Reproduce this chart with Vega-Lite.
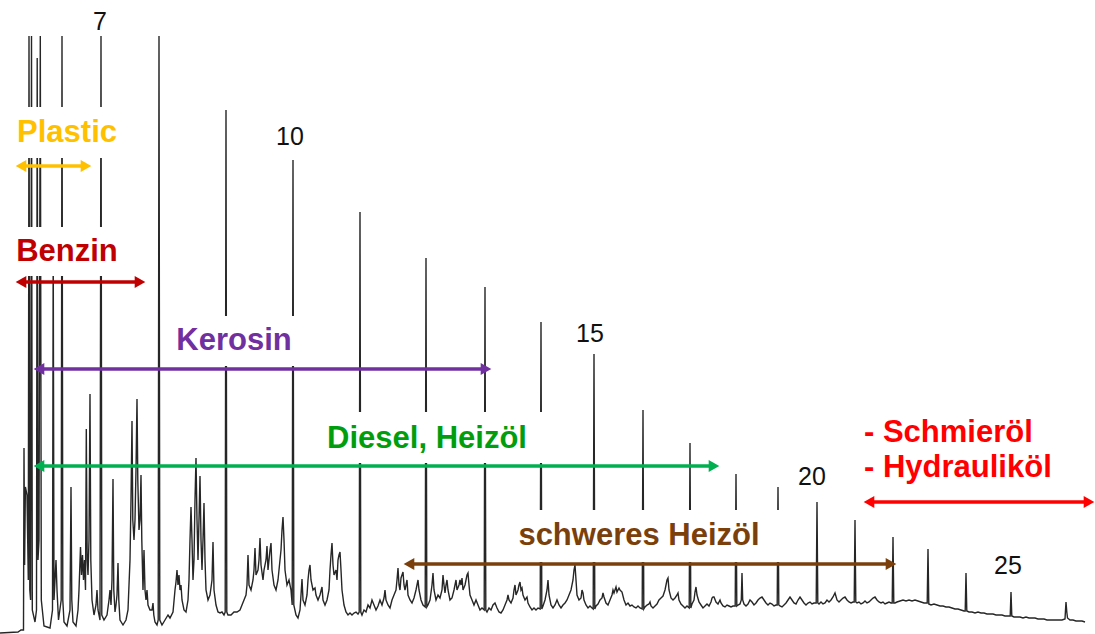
{
"$schema":"https://vega.github.io/schema/vega-lite/v6.json",
"width":1095,"height":634,
"autosize":{"type":"none"},
"padding":0,
"background":"white",
"config":{"view":{"stroke":null}},
"resolve":{"scale":{"color":"independent"}},
"datasets":{
"signal":[
{"t":0,"s":1},{"t":18,"s":2},{"t":21,"s":4},{"t":23.5,"s":4},{"t":24,"s":186},{"t":24.6,"s":69},{"t":25.4,"s":147},{"t":27,"s":139},{"t":28.3,"s":54},{"t":29,"s":598},{"t":29.8,"s":44},{"t":30.6,"s":34},{"t":31.5,"s":598},{"t":32.3,"s":24},{"t":35,"s":12},{"t":36.5,"s":24},{"t":37.2,"s":576},{"t":38,"s":74},{"t":39,"s":94},{"t":40.3,"s":598},{"t":41.3,"s":34},{"t":44,"s":8},{"t":50,"s":6},{"t":52.5,"s":24},{"t":53.2,"s":394},{"t":54,"s":34},{"t":56,"s":74},{"t":57,"s":44},{"t":58.5,"s":14},{"t":61.2,"s":34},{"t":62,"s":598},{"t":62.8,"s":34},{"t":64,"s":12},{"t":67,"s":8},{"t":70,"s":24},{"t":71,"s":147},{"t":71.8,"s":34},{"t":73,"s":12},{"t":76,"s":8},{"t":78,"s":24},{"t":79,"s":44},{"t":80.5,"s":87},{"t":81.5,"s":59},{"t":82.5,"s":79},{"t":83.5,"s":54},{"t":84.5,"s":74},{"t":85.5,"s":44},{"t":86.3,"s":205},{"t":87.2,"s":74},{"t":88,"s":59},{"t":89,"s":94},{"t":90,"s":240},{"t":90.8,"s":74},{"t":92,"s":34},{"t":94,"s":19},{"t":96,"s":29},{"t":97,"s":44},{"t":98,"s":24},{"t":100,"s":14},{"t":101,"s":598},{"t":101.8,"s":19},{"t":104,"s":14},{"t":107,"s":19},{"t":109,"s":34},{"t":110,"s":44},{"t":111,"s":29},{"t":112,"s":54},{"t":113,"s":155},{"t":113.8,"s":44},{"t":115,"s":22},{"t":116,"s":29},{"t":117,"s":39},{"t":118,"s":71},{"t":118.8,"s":34},{"t":120,"s":14},{"t":123,"s":9},{"t":126,"s":14},{"t":128,"s":24},{"t":130,"s":74},{"t":131,"s":134},{"t":132,"s":213},{"t":132.8,"s":114},{"t":134,"s":94},{"t":135,"s":114},{"t":136,"s":164},{"t":137,"s":235},{"t":137.8,"s":154},{"t":139,"s":104},{"t":140,"s":114},{"t":141,"s":159},{"t":141.8,"s":94},{"t":143,"s":44},{"t":144,"s":84},{"t":145,"s":44},{"t":146,"s":34},{"t":147,"s":44},{"t":148,"s":29},{"t":150,"s":24},{"t":152,"s":24},{"t":153,"s":31},{"t":153.8,"s":19},{"t":155,"s":12},{"t":157,"s":9},{"t":158.2,"s":14},{"t":159,"s":598},{"t":159.8,"s":14},{"t":162,"s":9},{"t":165,"s":14},{"t":168,"s":19},{"t":170,"s":16},{"t":173,"s":22},{"t":175,"s":44},{"t":176,"s":52},{"t":177,"s":64},{"t":178,"s":49},{"t":179,"s":59},{"t":180,"s":44},{"t":181,"s":49},{"t":182,"s":34},{"t":184,"s":24},{"t":186,"s":22},{"t":188,"s":34},{"t":189,"s":54},{"t":190,"s":94},{"t":191,"s":127},{"t":192,"s":94},{"t":193,"s":54},{"t":194,"s":74},{"t":195,"s":134},{"t":196,"s":176},{"t":197,"s":114},{"t":198,"s":74},{"t":199,"s":114},{"t":200,"s":158},{"t":201,"s":94},{"t":202,"s":64},{"t":203,"s":94},{"t":204,"s":131},{"t":205,"s":74},{"t":206,"s":44},{"t":208,"s":34},{"t":210,"s":39},{"t":212,"s":54},{"t":213,"s":92},{"t":214,"s":44},{"t":216,"s":29},{"t":218,"s":22},{"t":220,"s":21},{"t":222,"s":22},{"t":224,"s":19},{"t":225.2,"s":22},{"t":226,"s":524},{"t":226.8,"s":22},{"t":228,"s":19},{"t":231,"s":19},{"t":234,"s":22},{"t":237,"s":22},{"t":240,"s":24},{"t":242,"s":29},{"t":244,"s":34},{"t":246,"s":39},{"t":247,"s":49},{"t":248,"s":79},{"t":249,"s":49},{"t":251,"s":44},{"t":253,"s":54},{"t":254,"s":64},{"t":255,"s":86},{"t":256,"s":59},{"t":258,"s":64},{"t":259,"s":74},{"t":260,"s":96},{"t":261,"s":69},{"t":263,"s":54},{"t":264,"s":64},{"t":266,"s":74},{"t":267,"s":88},{"t":268,"s":64},{"t":269,"s":74},{"t":270,"s":84},{"t":271,"s":91},{"t":272,"s":64},{"t":274,"s":49},{"t":276,"s":44},{"t":278,"s":54},{"t":280,"s":74},{"t":281,"s":84},{"t":282,"s":104},{"t":283,"s":117},{"t":284,"s":94},{"t":285,"s":64},{"t":287,"s":49},{"t":289,"s":54},{"t":291,"s":44},{"t":292.2,"s":29},{"t":293,"s":474},{"t":293.8,"s":29},{"t":296,"s":19},{"t":298,"s":16},{"t":300,"s":24},{"t":301,"s":39},{"t":302,"s":55},{"t":303,"s":34},{"t":305,"s":29},{"t":307,"s":39},{"t":308,"s":54},{"t":309,"s":64},{"t":310,"s":69},{"t":311,"s":54},{"t":313,"s":44},{"t":315,"s":46},{"t":316,"s":39},{"t":318,"s":34},{"t":320,"s":39},{"t":322,"s":47},{"t":323,"s":34},{"t":325,"s":29},{"t":327,"s":34},{"t":329,"s":44},{"t":330,"s":64},{"t":331,"s":79},{"t":332,"s":91},{"t":333,"s":69},{"t":334,"s":59},{"t":336,"s":64},{"t":337,"s":54},{"t":338,"s":74},{"t":339,"s":79},{"t":340,"s":82},{"t":341,"s":64},{"t":342,"s":44},{"t":344,"s":29},{"t":346,"s":22},{"t":348,"s":19},{"t":350,"s":21},{"t":352,"s":19},{"t":354,"s":21},{"t":356,"s":22},{"t":358,"s":20},{"t":359.2,"s":22},{"t":360,"s":422},{"t":360.8,"s":22},{"t":362,"s":19},{"t":364,"s":24},{"t":366,"s":22},{"t":368,"s":29},{"t":370,"s":26},{"t":372,"s":34},{"t":374,"s":29},{"t":376,"s":24},{"t":378,"s":28},{"t":380,"s":34},{"t":382,"s":29},{"t":384,"s":36},{"t":385,"s":44},{"t":386,"s":34},{"t":388,"s":29},{"t":390,"s":26},{"t":392,"s":34},{"t":394,"s":39},{"t":396,"s":44},{"t":397,"s":54},{"t":398,"s":66},{"t":399,"s":49},{"t":400,"s":44},{"t":401,"s":56},{"t":402,"s":59},{"t":403,"s":62},{"t":404,"s":49},{"t":405,"s":44},{"t":406,"s":49},{"t":407,"s":54},{"t":408,"s":39},{"t":410,"s":34},{"t":412,"s":31},{"t":414,"s":36},{"t":416,"s":44},{"t":417,"s":49},{"t":418,"s":54},{"t":419,"s":44},{"t":421,"s":34},{"t":423,"s":29},{"t":425.2,"s":27},{"t":426,"s":376},{"t":426.8,"s":27},{"t":428,"s":29},{"t":430,"s":34},{"t":432,"s":49},{"t":433,"s":61},{"t":434,"s":44},{"t":436,"s":34},{"t":438,"s":39},{"t":440,"s":36},{"t":442,"s":44},{"t":443,"s":59},{"t":444,"s":49},{"t":445,"s":41},{"t":446,"s":49},{"t":447,"s":54},{"t":448,"s":44},{"t":450,"s":34},{"t":452,"s":36},{"t":454,"s":44},{"t":455,"s":49},{"t":456,"s":54},{"t":457,"s":44},{"t":459,"s":49},{"t":460,"s":54},{"t":461,"s":49},{"t":462,"s":56},{"t":463,"s":44},{"t":465,"s":49},{"t":466,"s":54},{"t":467,"s":59},{"t":468,"s":61},{"t":469,"s":49},{"t":470,"s":39},{"t":472,"s":34},{"t":474,"s":29},{"t":476,"s":34},{"t":478,"s":29},{"t":480,"s":24},{"t":482,"s":26},{"t":484.2,"s":24},{"t":485,"s":347},{"t":485.8,"s":24},{"t":487,"s":22},{"t":489,"s":26},{"t":491,"s":24},{"t":493,"s":29},{"t":495,"s":31},{"t":497,"s":26},{"t":499,"s":22},{"t":501,"s":21},{"t":503,"s":24},{"t":505,"s":29},{"t":507,"s":34},{"t":508,"s":39},{"t":509,"s":34},{"t":511,"s":31},{"t":513,"s":36},{"t":514,"s":44},{"t":515,"s":49},{"t":516,"s":39},{"t":518,"s":44},{"t":519,"s":49},{"t":520,"s":52},{"t":521,"s":44},{"t":522,"s":46},{"t":523,"s":39},{"t":525,"s":34},{"t":527,"s":37},{"t":528,"s":31},{"t":530,"s":27},{"t":532,"s":24},{"t":534,"s":26},{"t":536,"s":24},{"t":538,"s":26},{"t":540.2,"s":25},{"t":541,"s":312},{"t":541.8,"s":25},{"t":543,"s":28},{"t":545,"s":34},{"t":547,"s":44},{"t":548,"s":54},{"t":549,"s":39},{"t":551,"s":29},{"t":553,"s":26},{"t":555,"s":29},{"t":557,"s":34},{"t":559,"s":29},{"t":561,"s":26},{"t":563,"s":29},{"t":565,"s":31},{"t":567,"s":34},{"t":569,"s":39},{"t":571,"s":44},{"t":573,"s":54},{"t":574,"s":64},{"t":575,"s":69},{"t":576,"s":54},{"t":577,"s":39},{"t":579,"s":34},{"t":581,"s":36},{"t":582,"s":44},{"t":583,"s":41},{"t":584,"s":34},{"t":586,"s":29},{"t":588,"s":26},{"t":590,"s":28},{"t":592,"s":26},{"t":593.2,"s":25},{"t":594,"s":280},{"t":594.8,"s":25},{"t":596,"s":28},{"t":598,"s":30},{"t":600,"s":34},{"t":602,"s":36},{"t":603,"s":41},{"t":604,"s":37},{"t":606,"s":31},{"t":608,"s":29},{"t":610,"s":34},{"t":612,"s":39},{"t":613,"s":44},{"t":614,"s":41},{"t":616,"s":47},{"t":617,"s":42},{"t":619,"s":46},{"t":620,"s":44},{"t":622,"s":42},{"t":624,"s":34},{"t":626,"s":29},{"t":628,"s":31},{"t":630,"s":28},{"t":632,"s":29},{"t":634,"s":27},{"t":636,"s":26},{"t":638,"s":28},{"t":640,"s":26},{"t":642.2,"s":25},{"t":643,"s":224},{"t":643.8,"s":25},{"t":645,"s":27},{"t":647,"s":29},{"t":649,"s":30},{"t":650,"s":32},{"t":651,"s":28},{"t":653,"s":26},{"t":655,"s":28},{"t":657,"s":30},{"t":659,"s":34},{"t":661,"s":36},{"t":663,"s":38},{"t":665,"s":44},{"t":666,"s":49},{"t":667,"s":54},{"t":668,"s":56},{"t":669,"s":44},{"t":671,"s":36},{"t":673,"s":34},{"t":675,"s":36},{"t":677,"s":39},{"t":678,"s":41},{"t":679,"s":34},{"t":681,"s":30},{"t":683,"s":28},{"t":685,"s":26},{"t":687,"s":28},{"t":689.2,"s":26},{"t":690,"s":191},{"t":690.8,"s":26},{"t":692,"s":30},{"t":694,"s":34},{"t":695,"s":42},{"t":696,"s":47},{"t":697,"s":39},{"t":699,"s":32},{"t":701,"s":29},{"t":703,"s":26},{"t":705,"s":28},{"t":707,"s":30},{"t":709,"s":28},{"t":711,"s":32},{"t":712,"s":36},{"t":713,"s":37},{"t":714,"s":37},{"t":716,"s":32},{"t":718,"s":30},{"t":720,"s":34},{"t":721,"s":31},{"t":723,"s":28},{"t":725,"s":27},{"t":727,"s":29},{"t":729,"s":28},{"t":731,"s":27},{"t":733,"s":28},{"t":735.2,"s":28},{"t":736,"s":160},{"t":736.8,"s":28},{"t":738,"s":29},{"t":740,"s":30},{"t":741.3,"s":34},{"t":742,"s":61},{"t":742.7,"s":34},{"t":744,"s":30},{"t":746,"s":28},{"t":748,"s":30},{"t":750,"s":34},{"t":752,"s":32},{"t":754,"s":29},{"t":756,"s":31},{"t":758,"s":34},{"t":760,"s":36},{"t":762,"s":37},{"t":764,"s":34},{"t":766,"s":31},{"t":768,"s":29},{"t":770,"s":31},{"t":772,"s":30},{"t":774,"s":28},{"t":776,"s":29},{"t":777.2,"s":29},{"t":778,"s":147},{"t":778.8,"s":29},{"t":780,"s":28},{"t":782,"s":27},{"t":784,"s":29},{"t":786,"s":31},{"t":788,"s":34},{"t":790,"s":37},{"t":792,"s":34},{"t":794,"s":31},{"t":796,"s":30},{"t":798,"s":34},{"t":800,"s":37},{"t":802,"s":34},{"t":804,"s":31},{"t":806,"s":29},{"t":808,"s":31},{"t":810,"s":32},{"t":812,"s":30},{"t":814,"s":31},{"t":816.2,"s":31},{"t":817,"s":132},{"t":817.8,"s":31},{"t":819,"s":30},{"t":821,"s":32},{"t":823,"s":30},{"t":825,"s":31},{"t":827,"s":34},{"t":829,"s":32},{"t":831,"s":34},{"t":833,"s":37},{"t":835,"s":41},{"t":837,"s":34},{"t":839,"s":32},{"t":841,"s":34},{"t":843,"s":36},{"t":845,"s":37},{"t":847,"s":34},{"t":849,"s":32},{"t":851,"s":31},{"t":853,"s":32},{"t":854.2,"s":32},{"t":855,"s":114},{"t":855.8,"s":32},{"t":857,"s":31},{"t":859,"s":32},{"t":861,"s":30},{"t":863,"s":31},{"t":865,"s":33},{"t":867,"s":31},{"t":869,"s":32},{"t":871,"s":34},{"t":873,"s":36},{"t":875,"s":37},{"t":877,"s":34},{"t":879,"s":32},{"t":881,"s":31},{"t":883,"s":32},{"t":885,"s":30},{"t":887,"s":31},{"t":889,"s":32},{"t":891,"s":31},{"t":892.2,"s":31},{"t":893,"s":97},{"t":893.8,"s":31},{"t":895,"s":31},{"t":897,"s":32},{"t":900,"s":33},{"t":903,"s":34},{"t":906,"s":33},{"t":909,"s":34},{"t":912,"s":33},{"t":915,"s":34},{"t":918,"s":33},{"t":921,"s":32},{"t":924,"s":31},{"t":927.2,"s":31},{"t":928,"s":85},{"t":928.8,"s":30},{"t":931,"s":29},{"t":934,"s":30},{"t":937,"s":29},{"t":940,"s":28},{"t":943,"s":28},{"t":946,"s":27},{"t":949,"s":27},{"t":952,"s":26},{"t":955,"s":25},{"t":958,"s":25},{"t":961,"s":24},{"t":964,"s":23},{"t":965.2,"s":23},{"t":966,"s":61},{"t":966.8,"s":23},{"t":969,"s":22},{"t":972,"s":22},{"t":975,"s":21},{"t":978,"s":22},{"t":981,"s":21},{"t":984,"s":21},{"t":987,"s":20},{"t":990,"s":20},{"t":993,"s":20},{"t":996,"s":19},{"t":999,"s":19},{"t":1002,"s":19},{"t":1005,"s":18},{"t":1008,"s":18},{"t":1010.2,"s":18},{"t":1011,"s":42},{"t":1011.8,"s":18},{"t":1014,"s":17},{"t":1017,"s":17},{"t":1020,"s":17},{"t":1023,"s":16},{"t":1026,"s":17},{"t":1029,"s":16},{"t":1032,"s":16},{"t":1035,"s":16},{"t":1038,"s":15},{"t":1041,"s":15},{"t":1044,"s":15},{"t":1047,"s":14},{"t":1050,"s":14},{"t":1053,"s":14},{"t":1056,"s":14},{"t":1059,"s":14},{"t":1062,"s":14},{"t":1065,"s":15},{"t":1065.4,"s":22},{"t":1066,"s":32},{"t":1066.8,"s":22},{"t":1067.5,"s":16},{"t":1070,"s":14},{"t":1073,"s":14},{"t":1076,"s":13},{"t":1079,"s":13},{"t":1082,"s":13},{"t":1085,"s":12}
],
"gaps":[
{"t":14,"t2":125,"s":476,"s2":527},
{"t":14,"t2":125,"s":358,"s2":407},
{"t":170,"t2":320,"s":268,"s2":318},
{"t":320,"t2":570,"s":171,"s2":222},
{"t":495,"t2":790,"s":72,"s2":124}
],
"ranges":[
{"range":"Plastic","t":21,"t2":86,"s":468},
{"range":"Benzin","t":21,"t2":140,"s":352},
{"range":"Kerosin","t":39,"t2":486,"s":265},
{"range":"Diesel","t":39,"t2":714,"s":168},
{"range":"schweres Heizöl","t":409,"t2":891,"s":70},
{"range":"Schmieröl","t":869,"t2":1089,"s":132}
],
"labels":[
{"range":"Plastic","text":"Plastic","t":67,"s":501},
{"range":"Benzin","text":"Benzin","t":67,"s":382},
{"range":"Kerosin","text":"Kerosin","t":234,"s":293},
{"range":"Diesel","text":"Diesel, Heizöl","t":427,"s":195},
{"range":"schweres Heizöl","text":"schweres Heizöl","t":639,"s":98}
],
"labelsLeft":[
{"range":"Schmieröl","text":"- Schmieröl","t":864,"s":201},
{"range":"Schmieröl","text":"- Hydrauliköl","t":864,"s":166}
],
"carbon":[
{"text":"7","t":100,"s":612},
{"text":"10","t":290,"s":497},
{"text":"15","t":590,"s":300},
{"text":"20","t":812,"s":157},
{"text":"25","t":1008,"s":68}
]
},
"layer":[
{
"data":{"name":"signal"},
"mark":{"type":"line","color":"#262626","strokeWidth":1.4,"interpolate":"linear"},
"encoding":{
"x":{"field":"t","type":"quantitative","scale":{"domain":[0,1095],"nice":false,"zero":false},"axis":null},
"y":{"field":"s","type":"quantitative","scale":{"domain":[0,634],"nice":false},"axis":null}
}
},
{
"data":{"name":"gaps"},
"mark":{"type":"rect","color":"white"},
"encoding":{
"x":{"field":"t","type":"quantitative"},
"x2":{"field":"t2"},
"y":{"field":"s","type":"quantitative"},
"y2":{"field":"s2"}
}
},
{
"data":{"name":"ranges"},
"mark":{"type":"rule","strokeWidth":3.5},
"encoding":{
"x":{"field":"t","type":"quantitative"},
"x2":{"field":"t2"},
"y":{"field":"s","type":"quantitative"},
"color":{"field":"range","type":"nominal","legend":null,
"scale":{"domain":["Plastic","Benzin","Kerosin","Diesel","schweres Heizöl","Schmieröl"],
"range":["#FFC000","#C00000","#7030A0","#00B050","#7A3F0A","#FF0000"]}}
}
},
{
"data":{"name":"ranges"},
"mark":{"type":"point","shape":"triangle-left","filled":true,"size":150,"opacity":1},
"encoding":{
"x":{"field":"t","type":"quantitative"},
"y":{"field":"s","type":"quantitative"},
"color":{"field":"range","type":"nominal","legend":null,
"scale":{"domain":["Plastic","Benzin","Kerosin","Diesel","schweres Heizöl","Schmieröl"],
"range":["#FFC000","#C00000","#7030A0","#00B050","#7A3F0A","#FF0000"]}}
}
},
{
"data":{"name":"ranges"},
"mark":{"type":"point","shape":"triangle-right","filled":true,"size":150,"opacity":1},
"encoding":{
"x":{"field":"t2","type":"quantitative"},
"y":{"field":"s","type":"quantitative"},
"color":{"field":"range","type":"nominal","legend":null,
"scale":{"domain":["Plastic","Benzin","Kerosin","Diesel","schweres Heizöl","Schmieröl"],
"range":["#FFC000","#C00000","#7030A0","#00B050","#7A3F0A","#FF0000"]}}
}
},
{
"data":{"name":"labels"},
"mark":{"type":"text","font":"Liberation Sans","fontWeight":"bold","fontSize":31,"align":"center","baseline":"middle"},
"encoding":{
"x":{"field":"t","type":"quantitative"},
"y":{"field":"s","type":"quantitative"},
"text":{"field":"text"},
"color":{"field":"range","type":"nominal","legend":null,
"scale":{"domain":["Plastic","Benzin","Kerosin","Diesel","schweres Heizöl","Schmieröl"],
"range":["#FFC000","#C00000","#7030A0","#009E0F","#7A3F0A","#FF0000"]}}
}
},
{
"data":{"name":"labelsLeft"},
"mark":{"type":"text","font":"Liberation Sans","fontWeight":"bold","fontSize":31,"align":"left","baseline":"middle","color":"#FF0000"},
"encoding":{
"x":{"field":"t","type":"quantitative"},
"y":{"field":"s","type":"quantitative"},
"text":{"field":"text"}
}
},
{
"data":{"name":"carbon"},
"mark":{"type":"text","font":"Liberation Sans","fontSize":25,"align":"center","baseline":"middle","color":"#111111"},
"encoding":{
"x":{"field":"t","type":"quantitative"},
"y":{"field":"s","type":"quantitative"},
"text":{"field":"text"}
}
}
]
}
